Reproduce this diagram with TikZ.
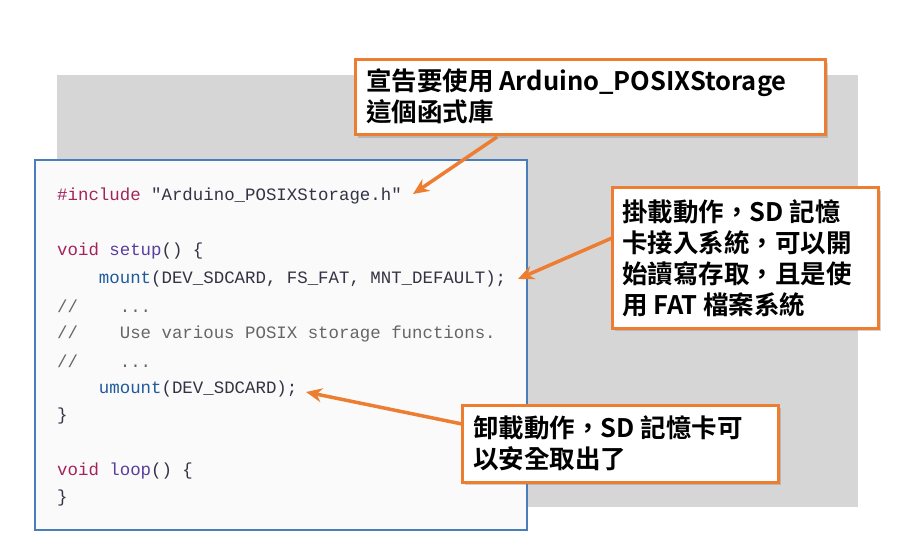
\documentclass[tikz,border=0pt]{standalone}
\usepackage{fontspec}
\setmonofont{Liberation Mono}
\newfontfamily\cjk{Noto Sans CJK TC}[BoldFont={Noto Sans CJK TC Bold}]
\usetikzlibrary{arrows.meta,shadows}
\definecolor{org}{HTML}{ED7D31}
\definecolor{cbl}{HTML}{4A7EBB}
\definecolor{kw}{HTML}{A3245A}
\definecolor{fn}{HTML}{5A3E9E}
\definecolor{bl}{HTML}{1F5A9E}
\definecolor{cm}{HTML}{666666}
\definecolor{tx}{HTML}{333344}
\begin{document}
\begin{tikzpicture}[x=1pt,y=-1pt,
  code/.style={anchor=west,inner sep=0,font=\fontsize{17.4}{17}\ttfamily,text=tx},
  call/.style={draw=org,line width=3pt,fill=white,drop shadow={shadow xshift=3pt,shadow yshift=-3pt,opacity=0.35}},
  ctext/.style={anchor=north west,align=left,inner sep=0,font=\fontsize{25.5}{31}\cjk\bfseries},
  arr/.style={draw=org,line width=3.5pt,-{Stealth[length=16pt,width=14pt]}}]
\useasboundingbox (0,0) rectangle (900,559);
\fill[black!16] (57,75) rectangle (858,507);
\draw[cbl,fill=black!2,line width=1.5pt] (35,160) rectangle (527,530);
\node[code] (l1) at (57,196) {\textcolor{kw}{\#include} "Arduino\_POSIXStorage.h"};
\node[code] (l2) at (57,251) {\textcolor{kw}{void} \textcolor{fn}{setup}() \{};
\node[code] (l3) at (57,279) {\phantom{xxxx}\textcolor{bl}{mount}(DEV\_SDCARD, FS\_FAT, MNT\_DEFAULT);};
\node[code,text=cm] (l4) at (57,306) {//\phantom{xxxx}...};
\node[code,text=cm] (l5) at (57,334) {//\phantom{xxxx}Use various POSIX storage functions.};
\node[code,text=cm] (l6) at (57,361) {//\phantom{xxxx}...};
\node[code] (l7) at (57,389) {\phantom{xxxx}\textcolor{bl}{umount}(DEV\_SDCARD);};
\node[code] (l8) at (57,416) {\}};
\node[code] (l9) at (57,471) {\textcolor{kw}{void} \textcolor{fn}{loop}() \{};
\node[code] (l10) at (57,498) {\}};
\path[call] (355,60) rectangle (825,135);
\node[ctext] (t1) at (366,68) {宣告要使用 Arduino\_POSIXStorage\\這個函式庫};
\path[call] (612,188) rectangle (878,328);
\node[ctext] (t2) at (622,199) {掛載動作，SD 記憶\\卡接入系統，可以開\\始讀寫存取，且是使\\用 FAT 檔案系統};
\path[call] (462,405) rectangle (778,482);
\node[ctext] (t3) at (473,415) {卸載動作，SD 記憶卡可\\以安全取出了};
\coordinate (a1) at (497,137); \coordinate (b1) at (413,194);
\coordinate (a2) at (612,238); \coordinate (b2) at (518,279);
\coordinate (a3) at (462,424); \coordinate (b3) at (306,392);
\draw[arr] (a1) -- (b1);
\draw[arr] (a2) -- (b2);
\draw[arr] (a3) -- (b3);
\end{tikzpicture}
\end{document}
